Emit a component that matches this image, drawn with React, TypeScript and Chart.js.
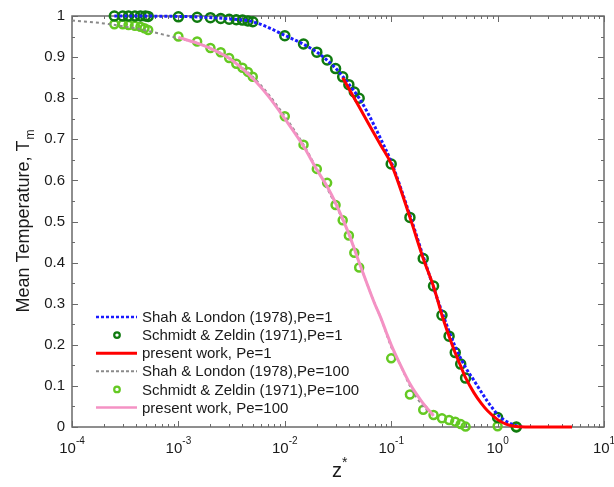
import React, { useEffect, useRef } from "react";
import { Chart, registerables } from "chart.js";

Chart.register(...registerables);

// ---------- data ----------
const shahPe1Z = [0.00025, 0.001, 0.003, 0.005, 0.01, 0.02, 0.03, 0.04, 0.05, 0.06, 0.08, 0.1, 0.15, 0.2, 0.3, 0.4, 0.5, 0.6, 0.8, 0.9, 1.0, 1.2, 1.5, 1.7];
const shahPe1T = [1.0, 0.999, 0.993, 0.986, 0.953, 0.912, 0.873, 0.834, 0.8, 0.765, 0.7, 0.645, 0.515, 0.415, 0.28, 0.195, 0.145, 0.113, 0.063, 0.045, 0.03, 0.014, 0.003, 0.0];

const schmidtPe1Z = [0.00025, 0.0003, 0.00034, 0.00039, 0.00044, 0.00049, 0.00052, 0.001, 0.0015, 0.002, 0.0025, 0.003, 0.0035, 0.004, 0.0045, 0.005, 0.01, 0.015, 0.02, 0.025, 0.03, 0.035, 0.04, 0.045, 0.05, 0.1, 0.15, 0.2, 0.25, 0.3, 0.35, 0.4, 0.45, 0.5, 1.0, 1.5];
const schmidtPe1T = [1.0, 1.0, 1.0, 1.0, 1.0, 1.0, 0.999, 0.998, 0.997, 0.996, 0.994, 0.992, 0.991, 0.99, 0.988, 0.986, 0.952, 0.932, 0.912, 0.893, 0.872, 0.852, 0.833, 0.815, 0.8, 0.64, 0.51, 0.41, 0.343, 0.272, 0.221, 0.181, 0.153, 0.119, 0.023, 0.0];

const presentPe1Z = [0.035, 0.045, 0.06, 0.08, 0.1, 0.15, 0.2, 0.25, 0.3, 0.35, 0.4, 0.45, 0.5, 0.6, 0.7, 0.8, 1.0, 1.2, 1.5, 2, 3, 5];
const presentPe1T = [0.85, 0.8, 0.742, 0.685, 0.64, 0.51, 0.41, 0.342, 0.272, 0.221, 0.18, 0.148, 0.12, 0.083, 0.058, 0.04, 0.018, 0.007, 0.001, 0.0, 0.0, 0.0];

const shahPe100Z = [0.0001, 0.0002, 0.0003, 0.0004, 0.0006, 0.0008, 0.001, 0.0015, 0.002, 0.003, 0.005, 0.007, 0.01, 0.015, 0.02, 0.03, 0.04, 0.05, 0.06, 0.07, 0.08, 0.1, 0.12, 0.15, 0.2, 0.25];
const shahPe100T = [0.989, 0.982, 0.975, 0.97, 0.96, 0.952, 0.946, 0.934, 0.922, 0.898, 0.852, 0.81, 0.756, 0.687, 0.628, 0.54, 0.47, 0.4, 0.345, 0.3, 0.265, 0.195, 0.155, 0.1, 0.05, 0.03];

const schmidtPe100Z = [0.00025, 0.0003, 0.00034, 0.00039, 0.00044, 0.00048, 0.00052, 0.001, 0.0015, 0.002, 0.0025, 0.003, 0.0035, 0.004, 0.0045, 0.005, 0.01, 0.015, 0.02, 0.025, 0.03, 0.035, 0.04, 0.045, 0.05, 0.1, 0.15, 0.2, 0.25, 0.3, 0.35, 0.4, 0.45, 0.5, 1.0, 1.5];
const schmidtPe100T = [0.98, 0.98, 0.978, 0.976, 0.974, 0.97, 0.966, 0.95, 0.938, 0.922, 0.912, 0.898, 0.884, 0.874, 0.864, 0.852, 0.756, 0.687, 0.628, 0.594, 0.54, 0.503, 0.466, 0.424, 0.388, 0.167, 0.079, 0.042, 0.029, 0.021, 0.017, 0.013, 0.007, 0.001, 0.002, 0.0];

const presentPe100Z = [0.001, 0.0015, 0.002, 0.003, 0.005, 0.007, 0.01, 0.015, 0.02, 0.025, 0.03, 0.04, 0.05, 0.06, 0.07, 0.08, 0.09, 0.1, 0.12, 0.15, 0.19, 0.25];
const presentPe100T = [0.948, 0.934, 0.921, 0.897, 0.848, 0.805, 0.75, 0.683, 0.626, 0.585, 0.545, 0.47, 0.4, 0.345, 0.3, 0.265, 0.23, 0.2, 0.155, 0.105, 0.065, 0.027];

const xTickExponents = [-4, -3, -2, -1, 0, 1];
const legendLabels = [
  "Shah & London (1978),Pe=1",
  "Schmidt & Zeldin (1971),Pe=1",
  "present work, Pe=1",
  "Shah & London (1978),Pe=100",
  "Schmidt & Zeldin (1971),Pe=100",
  "present work, Pe=100",
];

// ---------- styling ----------
const FONT = '"Liberation Sans", Arial, Helvetica, sans-serif';
const AXIS = "#6a6a6a";
const TEXT = "#1a1a1a";
const BLUE = "#1a1aff";
const DARK_GREEN = "#0f7a0f";
const RED = "#ff0000";
const GRAY = "#8a8a8a";
const LIGHT_GREEN = "#64c922";
const PINK = "#f492c4";

const pts = (xs: number[], ys: number[]) => xs.map((x, i) => ({ x, y: ys[i] }));

const framePlugin = {
  id: "frame",
  beforeDatasetsDraw(chart: any) {
    const { ctx, chartArea: a, scales } = chart;
    const xs = scales.x;
    const ys = scales.y;
    ctx.save();
    ctx.strokeStyle = AXIS;
    ctx.lineWidth = 1.5;
    ctx.strokeRect(a.left, a.top, a.right - a.left, a.bottom - a.top);
    ctx.lineWidth = 1;
    ctx.beginPath();
    for (let e = -4; e <= 1; e++) {
      for (let m = 1; m <= 9; m++) {
        const v = m * Math.pow(10, e);
        if (v > 10.0001) break;
        const px = Math.round(xs.getPixelForValue(v)) + 0.5;
        const len = m === 1 ? 6 : 3;
        ctx.moveTo(px, a.bottom);
        ctx.lineTo(px, a.bottom - len);
        ctx.moveTo(px, a.top);
        ctx.lineTo(px, a.top + len);
      }
    }
    for (let i = 0; i <= 20; i++) {
      const py = Math.round(ys.getPixelForValue(i * 0.05)) + 0.5;
      const len = i % 2 === 0 ? 6 : 3;
      ctx.moveTo(a.left, py);
      ctx.lineTo(a.left + len, py);
      ctx.moveTo(a.right, py);
      ctx.lineTo(a.right - len, py);
    }
    ctx.stroke();
    ctx.restore();
  },
  afterDraw(chart: any) {
    const { ctx, chartArea: a, scales } = chart;
    const xs = scales.x;
    ctx.save();
    ctx.fillStyle = TEXT;
    ctx.textBaseline = "alphabetic";
    ctx.textAlign = "left";
    // x tick labels 10^e
    for (const e of xTickExponents) {
      const px = xs.getPixelForValue(Math.pow(10, e));
      ctx.font = `15px ${FONT}`;
      const base = "10";
      const wb = ctx.measureText(base).width;
      ctx.font = `10px ${FONT}`;
      const ex = String(e);
      const we = ctx.measureText(ex).width;
      const start = px - (wb + we) / 2;
      ctx.font = `15px ${FONT}`;
      ctx.fillText(base, start, a.bottom + 26);
      ctx.font = `10px ${FONT}`;
      ctx.fillText(ex, start + wb, a.bottom + 17);
    }
    // x title z*
    ctx.font = `20px ${FONT}`;
    const zc = (a.left + a.right) / 2;
    ctx.fillText("z", zc - 6, a.bottom + 50);
    ctx.font = `14px ${FONT}`;
    ctx.fillText("*", zc + 4, a.bottom + 40);

    // y title
    ctx.save();
    ctx.translate(29, (a.top + a.bottom) / 2);
    ctx.rotate(-Math.PI / 2);
    ctx.font = `18px ${FONT}`;
    const t1 = "Mean Temperature, T";
    const w1 = ctx.measureText(t1).width;
    ctx.font = `12px ${FONT}`;
    const w2 = ctx.measureText("m").width;
    const s = -(w1 + w2) / 2;
    ctx.font = `18px ${FONT}`;
    ctx.fillText(t1, s, 0);
    ctx.font = `12px ${FONT}`;
    ctx.fillText("m", s + w1 + 1, 5);
    ctx.restore();

    // legend
    const rowY0 = 317;
    const rowH = 18.1;
    const lx0 = 96;
    const lx1 = 137;
    const mx = 117;
    const tx = 142;
    ctx.font = `15px ${FONT}`;
    ctx.textBaseline = "middle";
    legendLabels.forEach((lab, i) => {
      const y = rowY0 + i * rowH;
      ctx.save();
      if (i === 0 || i === 2 || i === 3 || i === 5) {
        ctx.beginPath();
        if (i === 0) {
          ctx.strokeStyle = BLUE;
          ctx.lineWidth = 2.5;
          ctx.setLineDash([3, 2]);
        } else if (i === 2) {
          ctx.strokeStyle = RED;
          ctx.lineWidth = 3;
        } else if (i === 3) {
          ctx.strokeStyle = GRAY;
          ctx.lineWidth = 2;
          ctx.setLineDash([3, 2]);
        } else {
          ctx.strokeStyle = PINK;
          ctx.lineWidth = 2.5;
        }
        ctx.moveTo(lx0, y);
        ctx.lineTo(lx1, y);
        ctx.stroke();
      } else {
        ctx.beginPath();
        ctx.strokeStyle = i === 1 ? DARK_GREEN : LIGHT_GREEN;
        ctx.lineWidth = 2.2;
        ctx.arc(mx, y, 2.8, 0, Math.PI * 2);
        ctx.stroke();
      }
      ctx.restore();
      ctx.fillStyle = TEXT;
      ctx.fillText(lab, tx, y + 1);
    });
    ctx.restore();
  },
};

export default function App() {
  const ref = useRef<HTMLCanvasElement | null>(null);

  useEffect(() => {
    if (!ref.current) return;
    const lineDs = (label: string, xs: number[], ys: number[], color: string, width: number, dash: number[], order: number) => ({
      label,
      data: pts(xs, ys),
      showLine: true,
      borderColor: color,
      backgroundColor: color,
      borderWidth: width,
      borderDash: dash,
      pointRadius: 0,
      pointHoverRadius: 0,
      cubicInterpolationMode: "monotone",
      order,
      clip: false,
    });
    const ptDs = (label: string, xs: number[], ys: number[], color: string, radius: number, order: number) => ({
      label,
      data: pts(xs, ys),
      showLine: false,
      borderColor: color,
      backgroundColor: "rgba(0,0,0,0)",
      pointBorderColor: color,
      pointBackgroundColor: "rgba(0,0,0,0)",
      pointBorderWidth: 2.5,
      pointRadius: radius,
      pointHoverRadius: radius,
      order,
      clip: false,
    });

    const chart = new Chart(ref.current, {
      type: "scatter",
      data: {
        datasets: [
          lineDs(legendLabels[0], shahPe1Z, shahPe1T, BLUE, 3, [3, 2], 2) as any,
          ptDs(legendLabels[1], schmidtPe1Z, schmidtPe1T, DARK_GREEN, 4.5, 3) as any,
          lineDs(legendLabels[2], presentPe1Z, presentPe1T, RED, 3, [], 1) as any,
          lineDs(legendLabels[3], shahPe100Z, shahPe100T, GRAY, 2, [3, 3], 5) as any,
          ptDs(legendLabels[4], schmidtPe100Z, schmidtPe100T, LIGHT_GREEN, 4, 6) as any,
          lineDs(legendLabels[5], presentPe100Z, presentPe100T, PINK, 3, [], 4) as any,
        ],
      },
      options: {
        responsive: false,
        animation: false,
        devicePixelRatio: 1,
        layout: { padding: { top: 10, right: 10, left: 0, bottom: 0 } },
        plugins: { legend: { display: false }, tooltip: { enabled: false } },
        scales: {
          x: {
            type: "logarithmic",
            min: 0.0001,
            max: 10,
            grid: { display: false },
            border: { display: false },
            ticks: { display: false },
            afterFit: (s: any) => {
              s.height = 60;
            },
          },
          y: {
            type: "linear",
            min: 0,
            max: 1,
            grid: { display: false, drawTicks: false },
            border: { display: false },
            ticks: {
              stepSize: 0.1,
              padding: 7,
              color: TEXT,
              font: { family: FONT, size: 15 },
              callback: (v: any) => String(Math.round(Number(v) * 10) / 10),
            },
            afterFit: (s: any) => {
              s.width = 72;
            },
          },
        },
      },
      plugins: [framePlugin as any],
    });
    return () => chart.destroy();
  }, []);

  return (
    <div style={{ position: "absolute", left: 0, top: 0, width: 614, height: 487, background: "#fff" }}>
      <canvas ref={ref} width={614} height={487} style={{ width: 614, height: 487, display: "block" }} />
    </div>
  );
}
